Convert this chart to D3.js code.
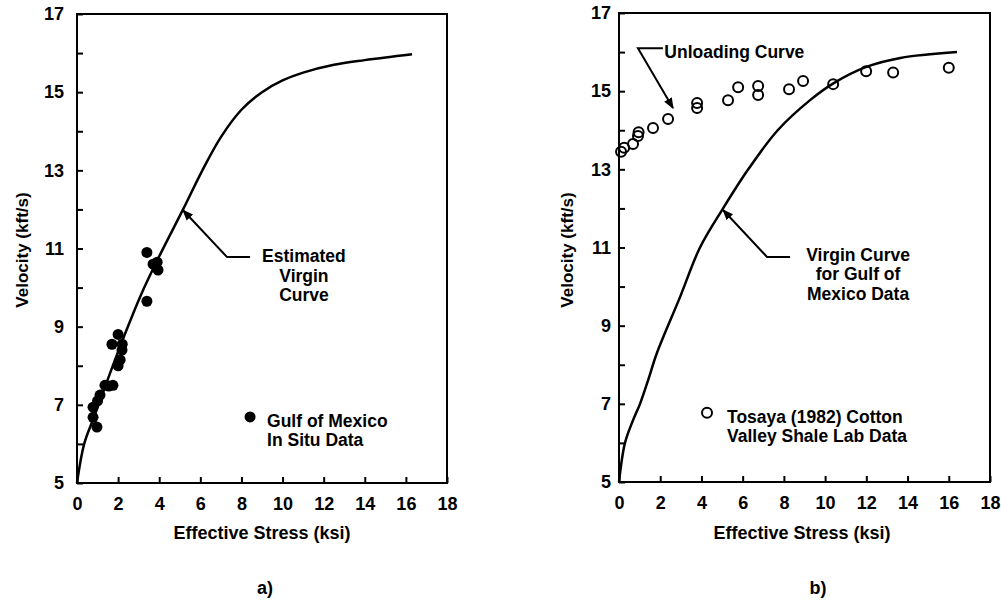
<!DOCTYPE html>
<html>
<head>
<meta charset="utf-8">
<script src="https://cdn.jsdelivr.net/npm/d3@7"></script>
<style>
    body { margin: 0; background: #fff; }
    text { font-family: "Liberation Sans", Arial, sans-serif; font-weight: bold; fill: #000; }
</style>
</head>
<body>
<script>
'use strict';

// axes
const stressTicks = [0, 2, 4, 6, 8, 10, 12, 14, 16, 18];
const velocityTicks = [5, 6, 7, 8, 9, 10, 11, 12, 13, 14, 15, 16, 17];
const velocityLabels = [5, 7, 9, 11, 13, 15, 17];

// a) virgin curve + gulf of mexico in situ data
const leftCurveStress   = [0, 0.35, 0.8, 1.6, 2.4, 3.1, 4.0, 5.16, 6.1, 7.0, 8.0, 9.0, 10.0, 11.0, 12.5, 14.0, 16.3];
const leftCurveVelocity = [5, 6.0, 6.65, 7.8, 8.9, 9.8, 10.8, 12.0, 13.0, 13.85, 14.55, 15.0, 15.3, 15.5, 15.7, 15.82, 15.97];
const gulfStress   = [3.4, 3.7, 3.9, 3.94, 3.4, 2.0, 1.7, 2.2, 2.19, 2.1, 2.0, 1.75, 1.55, 1.36, 1.12, 1.0, 0.78, 0.78, 0.97];
const gulfVelocity = [10.9, 10.6, 10.65, 10.45, 9.65, 8.8, 8.55, 8.55, 8.4, 8.15, 8.0, 7.5, 7.48, 7.5, 7.25, 7.1, 6.94, 6.68, 6.43];

// b) virgin curve + Tosaya lab data
const rightCurveStress   = [0, 0.29, 0.68, 1.02, 1.41, 1.84, 2.96, 3.93, 5.05, 6.27, 7.7, 9.27, 10.4, 12.0, 13.65, 16.4];
const rightCurveVelocity = [5, 6.0, 6.58, 7.0, 7.6, 8.3, 9.73, 11.0, 12.0, 13.0, 14.0, 14.77, 15.2, 15.62, 15.85, 16.0];
const labStress   = [0.1, 0.25, 0.68, 0.92, 0.95, 1.65, 2.38, 3.79, 3.79, 5.29, 5.78, 6.75, 6.75, 8.25, 8.93, 10.39, 11.99, 13.3, 16.0];
const labVelocity = [13.45, 13.55, 13.65, 13.85, 13.95, 14.06, 14.29, 14.57, 14.7, 14.77, 15.1, 15.13, 14.9, 15.05, 15.26, 15.18, 15.51, 15.48, 15.6];

const svg = d3.select('body')
    .append('svg')
    .attr('width', 1001)
    .attr('height', 601);

svg.append('defs').append('marker')
    .attr('id', 'head')
    .attr('viewBox', '0 0 10 10')
    .attr('refX', 9)
    .attr('refY', 5)
    .attr('markerWidth', 5.5)
    .attr('markerHeight', 5.5)
    .attr('orient', 'auto')
    .append('path')
    .attr('d', 'M0,1 L10,5 L0,9 Z')
    .style('fill', '#000');

function zip(xs, ys) {
    return xs.map((x, i) => [x, ys[i]]);
}

function drawPanel(p) {
    let x = d3.scaleLinear().domain([0, 18]).range(p.xRange);
    let y = d3.scaleLinear().domain([5, 17]).range(p.yRange);
    let g = svg.append('g');

    // frame
    g.append('rect')
        .attr('x', x(0)).attr('y', y(17))
        .attr('width', x(18) - x(0)).attr('height', y(5) - y(17))
        .style('fill', 'none').style('stroke', '#000').style('stroke-width', 2);

    let xAxis = g.append('g')
        .attr('transform', `translate(0,${y(5)})`)
        .call(d3.axisBottom(x).tickValues(stressTicks).tickSizeInner(-6).tickSizeOuter(0).tickPadding(14));
    let yAxis = g.append('g')
        .attr('transform', `translate(${x(0)},0)`)
        .call(d3.axisLeft(y).tickValues(velocityTicks).tickSizeInner(-6).tickSizeOuter(0)
            .tickPadding(p.yPad)
            .tickFormat(d => velocityLabels.includes(d) ? d : ''));
    [xAxis, yAxis].forEach(a => {
        a.select('.domain').remove();
        a.selectAll('line').style('stroke', '#000').style('stroke-width', 2);
        a.selectAll('text').style('font-size', '18px').attr('fill', '#000');
    });

    // axis titles
    g.append('text')
        .attr('x', p.xTitle).attr('y', 533)
        .attr('text-anchor', 'middle').attr('dominant-baseline', 'central')
        .style('font-size', '18px')
        .text('Effective Stress (ksi)');
    g.append('text')
        .attr('transform', `translate(${p.titleX},250) rotate(-90)`)
        .attr('text-anchor', 'middle').attr('dominant-baseline', 'central')
        .style('font-size', '17px')
        .text('Velocity (kft/s)');
    g.append('text')
        .attr('x', p.tagX).attr('y', 588)
        .attr('text-anchor', 'middle').attr('dominant-baseline', 'central')
        .style('font-size', '18px')
        .text(p.tag);

    // curve
    let line = d3.line()
        .x(d => x(d[0]))
        .y(d => y(d[1]))
        .curve(d3.curveCatmullRom.alpha(0.5));
    g.append('path')
        .datum(zip(p.curveX, p.curveY))
        .attr('d', line)
        .style('fill', 'none').style('stroke', '#000').style('stroke-width', 2.5);

    // points
    g.selectAll('circle.pt')
        .data(zip(p.ptX, p.ptY))
        .enter()
        .append('circle')
        .attr('class', 'pt')
        .attr('cx', d => x(d[0]))
        .attr('cy', d => y(d[1]))
        .attr('r', p.filled ? 5.5 : 5)
        .style('fill', p.filled ? '#000' : 'none')
        .style('stroke', '#000')
        .style('stroke-width', p.filled ? 0 : 2);

    // legend
    g.append('circle')
        .attr('cx', x(p.legend.at[0])).attr('cy', y(p.legend.at[1]))
        .attr('r', p.filled ? 5.5 : 5)
        .style('fill', p.filled ? '#000' : 'none')
        .style('stroke', '#000').style('stroke-width', p.filled ? 0 : 2);
    p.legend.lines.forEach((t, i) => {
        g.append('text')
            .attr('x', x(p.legend.at[0]) + p.legend.dx).attr('y', y(p.legend.at[1]) + p.legend.dy + i * 19)
            .attr('dominant-baseline', 'central')
            .style('font-size', '17.5px')
            .text(t);
    });

    // annotations
    p.notes.forEach(n => {
        g.append('path')
            .datum(n.path)
            .attr('d', d3.line().x(d => x(d[0])).y(d => y(d[1])))
            .attr('marker-end', 'url(#head)')
            .style('fill', 'none').style('stroke', '#000').style('stroke-width', 2);
        n.lines.forEach((t, i) => {
            g.append('text')
                .attr('x', x(n.text[0])).attr('y', y(n.text[1]) + i * 19.5)
                .attr('text-anchor', n.anchor).attr('dominant-baseline', 'central')
                .style('font-size', '17.5px')
                .text(t);
        });
    });
}

drawPanel({
    xRange: [77, 447], yRange: [483, 14], yPad: 13, titleX: 22, xTitle: 262, tagX: 265, tag: 'a)',
    curveX: leftCurveStress, curveY: leftCurveVelocity,
    ptX: gulfStress, ptY: gulfVelocity, filled: true,
    legend: {at: [8.42, 6.69], dx: 17, dy: 4, lines: ['Gulf of Mexico', 'In Situ Data']},
    notes: [
        {path: [[8.42, 10.78], [7.3, 10.78], [5.16, 11.98]], text: [11.04, 10.8], anchor: 'middle',
         lines: ['Estimated', 'Virgin', 'Curve']}
    ]
});

drawPanel({
    xRange: [619, 990], yRange: [482, 13], yPad: 8, titleX: 567, xTitle: 802, tagX: 818, tag: 'b)',
    curveX: rightCurveStress, curveY: rightCurveVelocity,
    ptX: labStress, ptY: labVelocity, filled: false,
    legend: {at: [4.27, 6.77], dx: 20, dy: 4, lines: ['Tosaya (1982) Cotton', 'Valley Shale Lab Data']},
    notes: [
        {path: [[8.3, 10.76], [7.18, 10.76], [5.05, 11.96]], text: [11.6, 10.82], anchor: 'middle',
         lines: ['Virgin Curve', 'for Gulf of', 'Mexico Data']},
        {path: [[2.13, 16.1], [0.92, 16.1], [2.62, 14.57]], text: [2.2, 16.0], anchor: 'start',
         lines: ['Unloading Curve']}
    ]
});
</script>
</body>
</html>
